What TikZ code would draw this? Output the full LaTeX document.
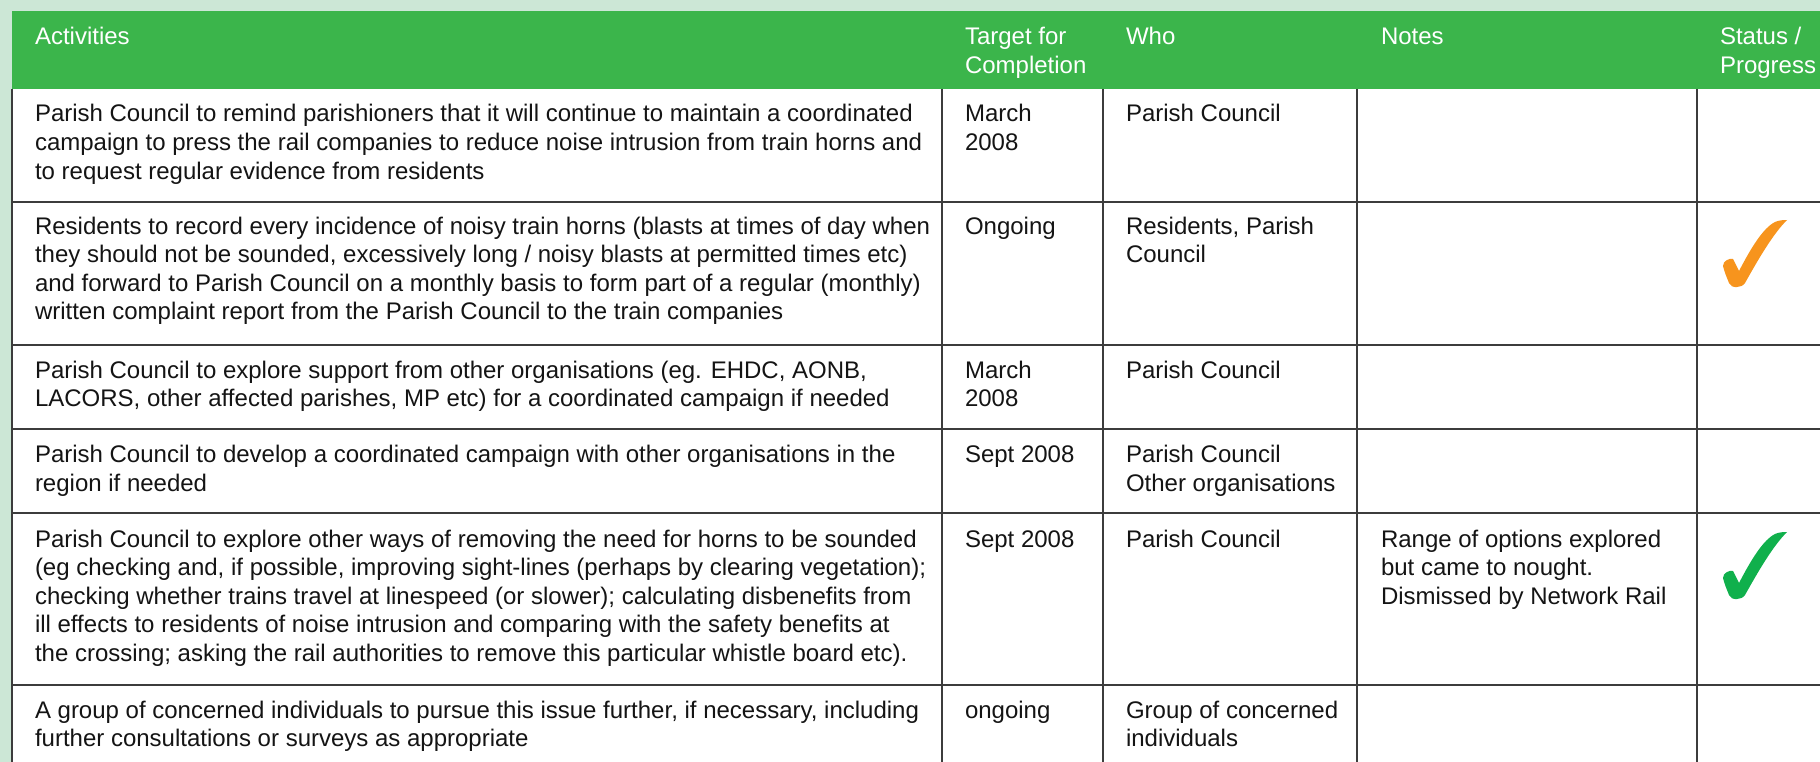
\documentclass[tikz,border=0pt]{standalone}
\usepackage{fontspec}
\setmainfont{Liberation Sans}
\definecolor{bggreen}{RGB}{204,231,214}
\definecolor{hdrgreen}{RGB}{59,181,75}
\definecolor{chkorange}{RGB}{247,148,29}
\definecolor{chkgreen}{RGB}{16,176,76}
\definecolor{txt}{RGB}{20,20,20}
\definecolor{rule}{RGB}{60,60,60}
\newcommand{\cs}{\rule{0pt}{20pt}}
\tikzset{
  cell/.style={anchor=north west, inner sep=0pt, outer sep=0pt, align=left,
    font=\fontsize{24}{28.6}\selectfont, text=txt},
  hcell/.style={cell, text=white},
  grid/.style={draw=rule, line width=1.3pt},
  tick/.style={line width=0pt}
}
\begin{document}
\begin{tikzpicture}[x=1pt,y=-1pt]
\useasboundingbox (0,0) rectangle (1820,762);
\fill[bggreen] (0,0) rectangle (1820,762);
\fill[hdrgreen] (12,11) rectangle (1820,89);
\fill[white] (12,89) rectangle (1820,762);
% grid
\foreach \y in {202,345,429,513,685} \draw[grid] (12,\y) -- (1820,\y);
\foreach \x in {12,942,1103,1357,1697} \draw[grid] (\x,89) -- (\x,762);
% header
\node[hcell] (hAct) at (35,24.5) {\cs Activities};
\node[hcell] (hTgt) at (965,24.5) {\cs Target for\\Completion};
\node[hcell] (hWho) at (1126,24.5) {\cs Who};
\node[hcell] (hNotes) at (1381,24.5) {\cs Notes};
\node[hcell] (hStat) at (1720,24.5) {\cs Status /\\Progress};
% row 1
\node[cell] (a1) at (35,102) {\cs Parish Council to remind parishioners that it will continue to maintain a coordinated\\campaign to press the rail companies to reduce noise intrusion from train horns and\\to request regular evidence from residents};
\node[cell] (t1) at (965,102) {\cs March\\2008};
\node[cell] (w1) at (1126,102) {\cs Parish Council};
% row 2
\node[cell] (a2) at (35,214) {\cs Residents to record every incidence of noisy train horns (blasts at times of day when\\they should not be sounded, excessively long / noisy blasts at permitted times etc)\\and forward to Parish Council on a monthly basis to form part of a regular (monthly)\\written complaint report from the Parish Council to the train companies};
\node[cell] (t2) at (965,214) {\cs Ongoing};
\node[cell] (w2) at (1126,214) {\cs Residents, Parish\\Council};
% row 3
\node[cell] (a3) at (35,358) {\cs Parish Council to explore support from other organisations (eg. EHDC, AONB,\\LACORS, other affected parishes, MP etc) for a coordinated campaign if needed};
\node[cell] (t3) at (965,358) {\cs March\\2008};
\node[cell] (w3) at (1126,358) {\cs Parish Council};
% row 4
\node[cell] (a4) at (35,442.5) {\cs Parish Council to develop a coordinated campaign with other organisations in the\\region if needed};
\node[cell] (t4) at (965,442.5) {\cs Sept 2008};
\node[cell] (w4) at (1126,442.5) {\cs Parish Council\\Other organisations};
% row 5
\node[cell] (a5) at (35,527) {\cs Parish Council to explore other ways of removing the need for horns to be sounded\\(eg checking and, if possible, improving sight-lines (perhaps by clearing vegetation);\\checking whether trains travel at linespeed (or slower); calculating disbenefits from\\ill effects to residents of noise intrusion and comparing with the safety benefits at\\the crossing; asking the rail authorities to remove this particular whistle board etc).};
\node[cell] (t5) at (965,527) {\cs Sept 2008};
\node[cell] (w5) at (1126,527) {\cs Parish Council};
\node[cell] (n5) at (1381,527) {\cs Range of options explored\\but came to nought.\\Dismissed by Network Rail};
% row 6
\node[cell] (a6) at (35,698) {\cs A group of concerned individuals to pursue this issue further, if necessary, including\\further consultations or surveys as appropriate};
\node[cell] (t6) at (965,698) {\cs ongoing};
\node[cell] (w6) at (1126,698) {\cs Group of concerned\\individuals};
% checkmarks
\foreach \cx/\cy/\cc in {1723/220/chkorange, 1723/532/chkgreen}{
  \fill[\cc, shift={(\cx,\cy)}]
    (0,46) .. controls (0,41) and (6,38) .. (10,39)
    -- (16,51) .. controls (28,28) and (40,8) .. (52,2)
    .. controls (56,0) and (62,0) .. (64,0)
    .. controls (50,14) and (36,38) .. (22,63)
    .. controls (19,68) and (8,69) .. (6,63)
    .. controls (4,58) and (1,51) .. (0,46) -- cycle;
}
\end{tikzpicture}
\end{document}
